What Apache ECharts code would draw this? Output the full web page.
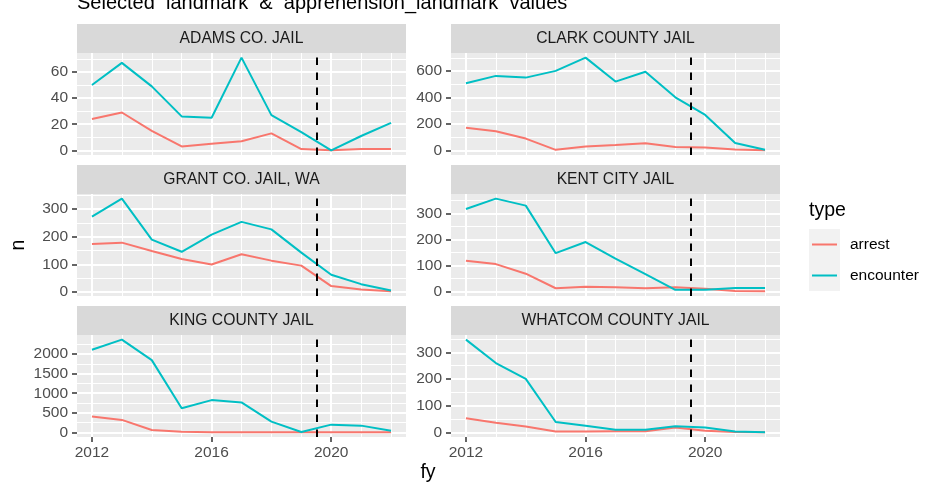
<!DOCTYPE html>
<html>
<head>
<meta charset="utf-8">
<title>Selected landmark & apprehension_landmark values</title>
<script src="https://cdn.jsdelivr.net/npm/echarts@6/dist/echarts.min.js"></script>
<style>
  html, body { margin: 0; padding: 0; background: #fff; }
  #main { width: 940px; height: 489px; }
</style>
</head>
<body>
<div id="main"></div>
<script>
// data
var years = [2012, 2013, 2014, 2015, 2016, 2017, 2018, 2019, 2020, 2021, 2022];
var xTicks = [2012, 2016, 2020];
var cutoffYear = 2019.5;

var facetNames = ['ADAMS CO. JAIL', 'CLARK COUNTY JAIL', 'GRANT CO. JAIL, WA',
    'KENT CITY JAIL', 'KING COUNTY JAIL', 'WHATCOM COUNTY JAIL'];

var adamsArrest = [24, 29, 15, 3, 5, 7, 13, 1, 0, 1, 1];
var adamsEncounter = [50, 67, 49, 26, 25, 71, 27, 14, 0, 11, 21];
var adamsTicks = [0, 20, 40, 60];

var clarkArrest = [172, 146, 90, 5, 31, 41, 54, 26, 23, 8, 1];
var clarkEncounter = [508, 564, 551, 602, 702, 521, 595, 402, 269, 56, 5];
var clarkTicks = [0, 200, 400, 600];

var grantArrest = [174, 179, 149, 120, 100, 137, 114, 96, 22, 10, 3];
var grantEncounter = [273, 338, 190, 146, 208, 254, 227, 143, 63, 29, 6];
var grantTicks = [0, 100, 200, 300];

var kentArrest = [118, 105, 68, 12, 18, 16, 12, 16, 10, 1, 0];
var kentEncounter = [317, 357, 330, 147, 190, 126, 66, 6, 6, 13, 13];
var kentTicks = [0, 100, 200, 300];

var kingArrest = [403, 318, 60, 17, 5, 3, 2, 1, 1, 0, 0];
var kingEncounter = [2112, 2369, 1845, 618, 824, 764, 275, 9, 197, 172, 43];
var kingTicks = [0, 500, 1000, 1500, 2000];

var whatcomArrest = [53, 36, 22, 3, 3, 4, 4, 18, 6, 1, 0];
var whatcomEncounter = [348, 260, 201, 39, 25, 10, 10, 23, 18, 3, 0];
var whatcomTicks = [0, 100, 200, 300];

var panels = [
    {arrest: adamsArrest, encounter: adamsEncounter, ticks: adamsTicks},
    {arrest: clarkArrest, encounter: clarkEncounter, ticks: clarkTicks},
    {arrest: grantArrest, encounter: grantEncounter, ticks: grantTicks},
    {arrest: kentArrest, encounter: kentEncounter, ticks: kentTicks},
    {arrest: kingArrest, encounter: kingEncounter, ticks: kingTicks},
    {arrest: whatcomArrest, encounter: whatcomEncounter, ticks: whatcomTicks}
];

var arrestColor = '#F8766D',
    encounterColor = '#00BFC4',
    font = 'Liberation Sans, Arial, Helvetica, sans-serif';

// layout (px)
var colLeft = [77, 451],
    rowTop = [24, 165, 306],
    panelW = 329,
    stripH = 29,
    panelH = 102;

// ggplot style 5% expansion
function expand(lo, hi) {
    var d = hi - lo;
    return [lo - d * 0.05, hi + d * 0.05];
}

// minor grid between the major breaks
function minorBreaks(ticks, lo, hi) {
    var step = ticks[1] - ticks[0], out = [];
    for (var v = ticks[0] - step / 2; v <= hi; v += step) {
        if (v >= lo) out.push(v);
    }
    return out;
}

var xRange = expand(years[0], years[years.length - 1]);

var grids = [], xAxes = [], yAxes = [], series = [], graphics = [];

panels.forEach(function (p, i) {
    var col = i % 2,
        row = Math.floor(i / 2),
        left = colLeft[col],
        top = rowTop[row] + stripH,
        bottomRow = row === 2;

    var all = p.arrest.concat(p.encounter);
    var yRange = expand(Math.min.apply(null, all), Math.max.apply(null, all));

    grids.push({
        left: left, top: top, width: panelW, height: panelH,
        show: true, backgroundColor: '#EBEBEB', borderWidth: 0
    });

    // major x grid + labels
    xAxes.push({
        type: 'value', gridIndex: i, min: xRange[0], max: xRange[1],
        axisLine: {show: false, onZero: false},
        axisTick: {show: bottomRow, customValues: xTicks, length: 5,
            lineStyle: {color: '#333333', width: 1.5}},
        axisLabel: {show: bottomRow, customValues: xTicks, color: '#4D4D4D',
            fontSize: 15.5, fontFamily: font, margin: 8,
            formatter: function (v) { return String(v); }},
        splitLine: {show: true, lineStyle: {color: '#FFFFFF', width: 2}}
    });
    // minor x grid (every year)
    xAxes.push({
        type: 'value', gridIndex: i, min: xRange[0], max: xRange[1],
        axisLine: {show: false, onZero: false},
        axisTick: {show: false, customValues: years},
        axisLabel: {show: false},
        splitLine: {show: true, lineStyle: {color: '#FFFFFF', width: 1}}
    });

    yAxes.push({
        type: 'value', gridIndex: i, min: yRange[0], max: yRange[1], position: 'left',
        axisLine: {show: false, onZero: false},
        axisTick: {show: true, customValues: p.ticks, length: 5,
            lineStyle: {color: '#333333', width: 1.5}},
        axisLabel: {show: true, customValues: p.ticks, color: '#4D4D4D',
            fontSize: 15.5, fontFamily: font, margin: 9,
            formatter: function (v) { return String(v); }},
        splitLine: {show: true, lineStyle: {color: '#FFFFFF', width: 2}}
    });
    yAxes.push({
        type: 'value', gridIndex: i, min: yRange[0], max: yRange[1],
        axisLine: {show: false, onZero: false},
        axisTick: {show: false, customValues: minorBreaks(p.ticks, yRange[0], yRange[1])},
        axisLabel: {show: false},
        splitLine: {show: true, lineStyle: {color: '#FFFFFF', width: 1}}
    });

    series.push({
        name: 'arrest', type: 'line', xAxisIndex: 2 * i, yAxisIndex: 2 * i,
        data: years.map(function (y, k) { return [y, p.arrest[k]]; }),
        symbol: 'none', silent: true,
        lineStyle: {color: arrestColor, width: 2},
        itemStyle: {color: arrestColor}
    });
    series.push({
        name: 'encounter', type: 'line', xAxisIndex: 2 * i, yAxisIndex: 2 * i,
        data: years.map(function (y, k) { return [y, p.encounter[k]]; }),
        symbol: 'none', silent: true,
        lineStyle: {color: encounterColor, width: 2},
        itemStyle: {color: encounterColor},
        markLine: {
            silent: true, symbol: 'none', label: {show: false},
            lineStyle: {color: '#000000', type: [7.5, 7.5], width: 2},
            data: [{xAxis: cutoffYear}]
        }
    });

    // facet strip
    graphics.push({
        type: 'rect', shape: {x: left, y: rowTop[row], width: panelW, height: stripH},
        style: {fill: '#D9D9D9'}, silent: true
    });
    graphics.push({
        type: 'text', x: left + panelW / 2, y: rowTop[row] + stripH / 2 + 0.5,
        style: {text: facetNames[i], fill: '#1A1A1A', font: '15.7px ' + font,
            textAlign: 'center', textVerticalAlign: 'middle'}, silent: true
    });
});

// title and axis titles
graphics.push({
    type: 'text', x: 77, y: 3.5,
    style: {text: 'Selected  landmark  &  apprehension_landmark  values', fill: '#000000',
        font: '20px ' + font, textAlign: 'left', textVerticalAlign: 'middle'}, silent: true
});
graphics.push({
    type: 'text', x: 19, y: 245, rotation: Math.PI / 2,
    style: {text: 'n', fill: '#000000', font: '19.5px ' + font,
        textAlign: 'center', textVerticalAlign: 'middle'}, silent: true
});
graphics.push({
    type: 'text', x: 428, y: 473,
    style: {text: 'fy', fill: '#000000', font: '19.5px ' + font,
        textAlign: 'center', textVerticalAlign: 'middle'}, silent: true
});

// legend
graphics.push({
    type: 'text', x: 809, y: 211,
    style: {text: 'type', fill: '#000000', font: '19.5px ' + font,
        textAlign: 'left', textVerticalAlign: 'middle'}, silent: true
});
graphics.push({
    type: 'rect', shape: {x: 809, y: 229, width: 31, height: 62},
    style: {fill: '#F2F2F2'}, silent: true
});
[['arrest', arrestColor, 244.5], ['encounter', encounterColor, 275.5]].forEach(function (k) {
    graphics.push({
        type: 'line', shape: {x1: 812, y1: k[2], x2: 837, y2: k[2]},
        style: {stroke: k[1], lineWidth: 2}, silent: true
    });
    graphics.push({
        type: 'text', x: 850, y: k[2],
        style: {text: k[0], fill: '#000000', font: '15.5px ' + font,
            textAlign: 'left', textVerticalAlign: 'middle'}, silent: true
    });
});

var myChart = echarts.init(document.getElementById('main'));
myChart.setOption({
    animation: false,
    backgroundColor: '#FFFFFF',
    textStyle: {fontFamily: font},
    grid: grids,
    xAxis: xAxes,
    yAxis: yAxes,
    series: series,
    graphic: graphics
});
</script>
</body>
</html>
